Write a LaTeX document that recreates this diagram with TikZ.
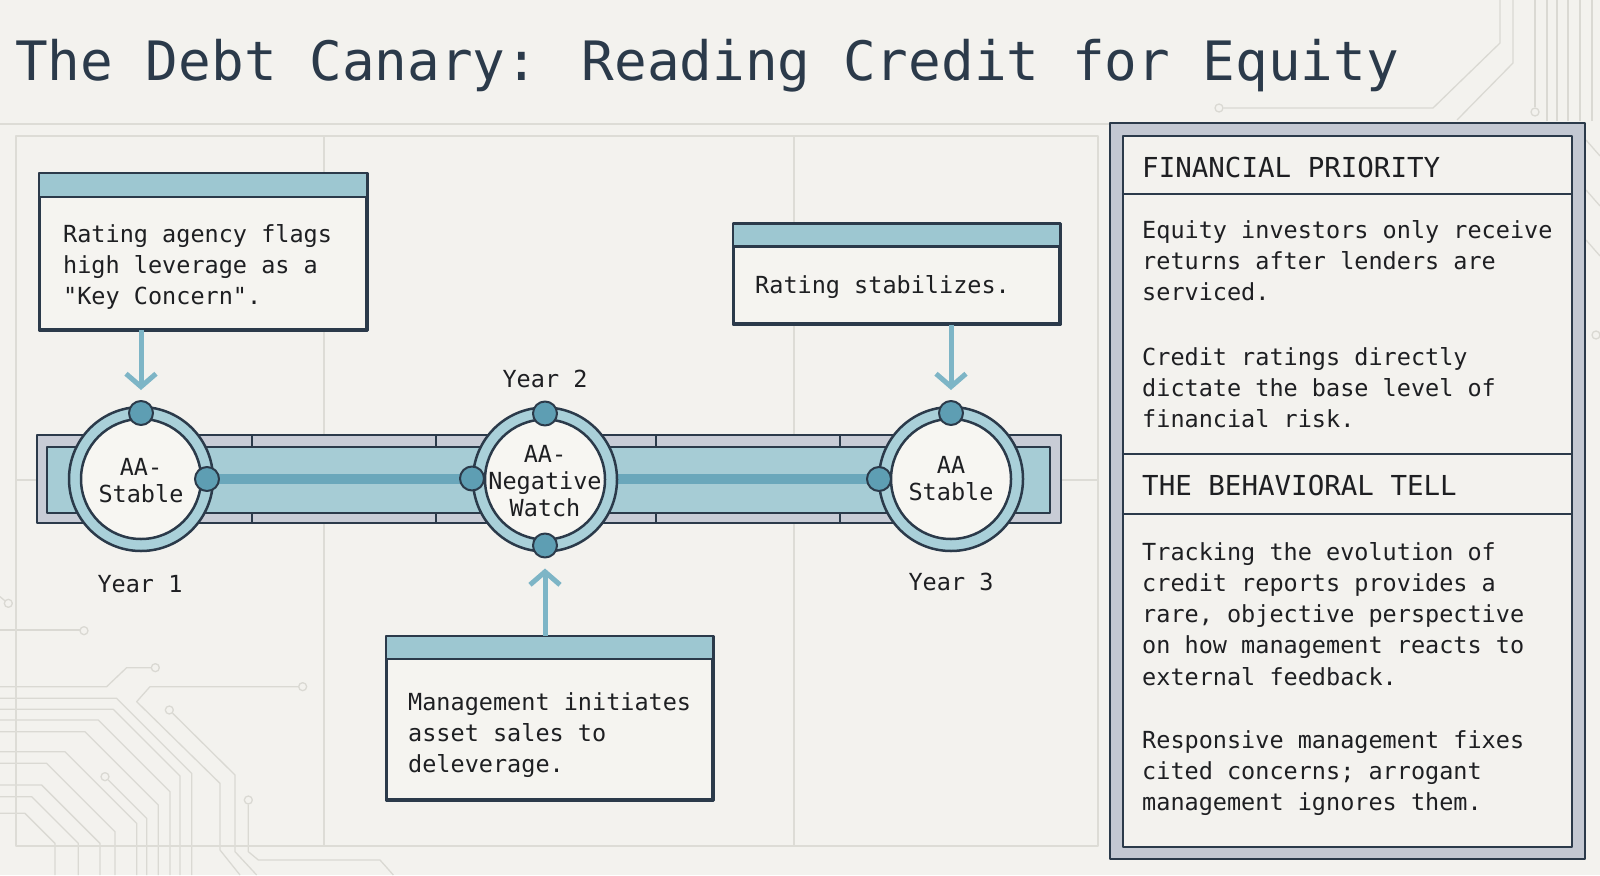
\documentclass[tikz,border=0pt]{standalone}
\usepackage{fontspec}
\setmainfont{DejaVu Sans Mono}[Ligatures=TeXOff]
\usetikzlibrary{arrows.meta,calc}
\definecolor{bg}{HTML}{F3F2EE}
\definecolor{dk}{HTML}{2B3A4A}
\definecolor{txt}{HTML}{1E1F22}
\definecolor{band}{HTML}{9DC7D1}
\definecolor{ringc}{HTML}{A9D0D9}
\definecolor{dotc}{HTML}{5E9EB3}
\definecolor{barc}{HTML}{A6CCD5}
\definecolor{stripec}{HTML}{6AA7BB}
\definecolor{stripgray}{HTML}{C8CCD6}
\definecolor{arrc}{HTML}{7DB5C6}
\definecolor{panelgray}{HTML}{C3C8D2}
\definecolor{boxfill}{HTML}{F5F4F0}
\definecolor{corefill}{HTML}{F7F6F2}
\definecolor{gridc}{HTML}{DDDCD6}
\definecolor{trc}{HTML}{DAD9D3}
\newcommand{\mlines}[1]{\begin{tabular}[t]{@{}l@{}}#1\end{tabular}}
\newcommand{\clines}[1]{\begin{tabular}[t]{@{}c@{}}#1\end{tabular}}
\newcommand{\bodyf}{\fontsize{23.5}{31.3}\selectfont}
\newcommand{\circf}{\fontsize{23.5}{27}\selectfont}
\newcommand{\headf}{\fontsize{27.5}{32}\selectfont}
\newcommand{\titlef}{\fontsize{54.3}{60}\selectfont}
\begin{document}
\begin{tikzpicture}[x=1pt,y=-1pt,line join=round,
  trace/.style={draw=trc,line width=1.3pt},
  via/.style={circle,draw=trc,line width=1.3pt,fill=bg,inner sep=0pt,minimum size=8pt},
  gridl/.style={draw=gridc,line width=1.5pt},
  boxline/.style={draw=dk,line width=2.5pt},
  evbox/.style={rectangle,draw=dk,line width=2.5pt,fill=boxfill,inner sep=0pt},
  ring/.style={circle,draw=dk,line width=2.5pt,fill=ringc,inner sep=0pt,minimum size=144pt},
  core/.style={circle,draw=dk,line width=2.5pt,fill=corefill,inner sep=0pt,minimum size=120pt},
  dot/.style={circle,draw=dk,line width=2pt,fill=dotc,inner sep=0pt,minimum size=24pt},
  arr/.style={draw=arrc,line width=5pt,-{Straight Barb[length=13pt,width=30pt]},shorten >=10pt},
  stripe/.style={draw=stripec,line width=10pt},
  txtl/.style={inner sep=0pt,anchor=base west,text=txt,font=\bodyf},
  clab/.style={inner sep=0pt,anchor=base,text=txt,font=\circf},
  headl/.style={inner sep=0pt,anchor=base west,text=txt,font=\headf}]
\useasboundingbox (0,0) rectangle (1600,875);
\fill[bg] (0,0) rectangle (1600,875);

% ---- circuit traces bottom-left (zoom coordinates)
\begin{scope}[shift={(0,550)},x=0.33333pt,y=-0.33333pt]
  \draw[trace] (0,140) -- (18,155);
  \node[via] (v1) at (25,160) {};
  \draw[trace] (0,240) -- (240,240);
  \node[via] (v2) at (252,242) {};
  \draw[trace] (0,410) -- (320,410) -- (380,353) -- (455,353);
  \node[via] (v3) at (466,353) {};
  \node[via] (v4) at (908,410) {};
  \draw[trace] (v4) -- (450,410) -- (410,455) -- (660,700) -- (660,900) -- (720,975);
  \node[via] (v5) at (508,480) {};
  \draw[trace] (v5) -- (705,675) -- (705,905) -- (770,975);
  \node[via] (v6) at (745,750) {};
  \draw[trace] (v6) -- (745,905) -- (775,930) -- (1140,930) -- (1180,975);
  \draw[trace] (0,445) -- (350,445) -- (575,670) -- (575,975);
  \draw[trace] (0,478) -- (340,478) -- (540,678) -- (540,975);
  \draw[trace] (0,510) -- (295,510) -- (510,725) -- (510,975);
  \draw[trace] (0,545) -- (255,545) -- (475,765) -- (475,975);
  \draw[trace] (0,605) -- (195,605) -- (410,820) -- (410,975);
  \draw[trace] (0,640) -- (140,640) -- (345,845) -- (345,975);
  \draw[trace] (0,705) -- (125,705) -- (300,880) -- (300,975);
  \draw[trace] (0,740) -- (95,740) -- (235,880) -- (235,975);
  \draw[trace] (0,790) -- (75,790) -- (165,880) -- (165,975);
  \node[via] (v7) at (315,680) {};
  \draw[trace] (v7) -- (440,805) -- (440,975);
\end{scope}

% ---- circuit traces top-right
\node[via] (v8) at (1219,108) {};
\draw[trace] (v8) -- (1433,108) -- (1500,43) -- (1500,0);
\draw[trace] (1457,120) -- (1513,63) -- (1513,0);
\node[via] (v9) at (1535,112) {};
\draw[trace] (v9) -- (1535,0);
\draw[trace] (1547,121) -- (1547,0);
\draw[trace] (1557,121) -- (1557,0);
\draw[trace] (1568,121) -- (1568,0);
\draw[trace] (1580,121) -- (1580,0);
\draw[trace] (1592,121) -- (1592,0);
\draw[trace] (1586,140) -- (1600,156);
\draw[trace] (1586,190) -- (1600,206);
\draw[trace] (1586,240) -- (1600,256);
\node[via] (v10) at (1596,335) {};

% ---- grid frame
\draw[gridl] (0,124) -- (1110,124);
\draw[gridl] (16,136) rectangle (1098,846);
\draw[gridl] (324,136) -- (324,846);
\draw[gridl] (794,136) -- (794,846);
\draw[gridl] (16,480) -- (1098,480);

% ---- title
\node[inner sep=0pt,anchor=base west,text=dk,font=\titlef] (title) at (15,81) {The Debt Canary: Reading Credit for Equity};

% ---- timeline bar
\node[rectangle,draw=dk,line width=2pt,fill=stripgray,inner sep=0pt,minimum width=1024pt,minimum height=88pt] (barout) at (549,479) {};
\node[rectangle,draw=dk,line width=2pt,fill=barc,inner sep=0pt,minimum width=1003pt,minimum height=66pt] (barin) at (548.5,480) {};
\foreach \xx in {252,436,656,840}{
  \draw[dk,line width=2pt] (\xx,435) -- (\xx,447);
  \draw[dk,line width=2pt] (\xx,513) -- (\xx,523);
}
\coordinate (c1) at (141,479);
\coordinate (c2) at (545,479.5);
\coordinate (c3) at (951,479);
\draw[stripe] ($(c1)+(66,0)$) -- ($(c3)+(-66,0)$);

% ---- milestone circles
\node[ring] (r1) at (c1) {};
\node[core] (k1) at (c1) {};
\node[ring] (r2) at (c2) {};
\node[core] (k2) at (c2) {};
\node[ring] (r3) at (c3) {};
\node[core] (k3) at (c3) {};
\node[dot] (d1t) at ($(c1)+(0,-66)$) {};
\node[dot] (d1r) at ($(c1)+(66,0)$) {};
\node[dot] (d2t) at ($(c2)+(0,-66)$) {};
\node[dot] (d2l) at ($(c2)+(-73,-1)$) {};
\node[dot] (d2b) at ($(c2)+(0,66)$) {};
\node[dot] (d3t) at ($(c3)+(0,-66)$) {};
\node[dot] (d3l) at ($(c3)+(-72,0)$) {};

\node[clab] (t1) at (141,475) {\clines{AA-\\Stable}};
\node[clab] (t2) at (545,462) {\clines{AA-\\Negative\\Watch}};
\node[clab] (t3) at (951,473) {\clines{AA\\Stable}};

\node[clab] (y1) at (140,592) {Year 1};
\node[clab] (y2) at (545,387) {Year 2};
\node[clab] (y3) at (951,590) {Year 3};

% ---- event boxes
\node[evbox,minimum width=326pt,minimum height=155pt] (b1) at (203,251.5) {};
\fill[band] (b1.north west) rectangle ($(b1.north east)+(0,24)$);
\draw[boxline] ($(b1.north west)+(0,24)$) -- ($(b1.north east)+(0,24)$);
\draw[boxline] (b1.north west) rectangle (b1.south east);
\node[txtl] (b1t) at (63,242) {\mlines{Rating agency flags\\high leverage as a\\"Key Concern".}};

\node[evbox,minimum width=325pt,minimum height=99pt] (b3) at (896.5,274) {};
\fill[band] (b3.north west) rectangle ($(b3.north east)+(0,23)$);
\draw[boxline] ($(b3.north west)+(0,23)$) -- ($(b3.north east)+(0,23)$);
\draw[boxline] (b3.north west) rectangle (b3.south east);
\node[txtl] (b3t) at (755,293) {Rating stabilizes.};

\node[evbox,minimum width=325pt,minimum height=162pt] (b2) at (549.5,718) {};
\fill[band] (b2.north west) rectangle ($(b2.north east)+(0,23)$);
\draw[boxline] ($(b2.north west)+(0,23)$) -- ($(b2.north east)+(0,23)$);
\draw[boxline] (b2.north west) rectangle (b2.south east);
\node[txtl] (b2t) at (408,710) {\mlines{Management initiates\\asset sales to\\deleverage.}};

% ---- arrows
\draw[arr] (b1.south -| c1) -- (d1t.north);
\draw[arr] (b3.south -| c3) -- (d3t.north);
\draw[arr] (b2.north -| c2) -- (d2b.south);

% ---- right panel
\node[rectangle,draw=dk,line width=2.5pt,fill=panelgray,inner sep=0pt,minimum width=475pt,minimum height=736pt] (pout) at (1347.5,491) {};
\node[rectangle,draw=dk,line width=2.5pt,fill=bg,inner sep=0pt,minimum width=449pt,minimum height=711pt] (pin) at (1347.5,491.5) {};
\draw[boxline] ($(pin.north west)+(0,59)$) -- ($(pin.north east)+(0,59)$);
\draw[boxline] ($(pin.north west)+(0,319)$) -- ($(pin.north east)+(0,319)$);
\draw[boxline] ($(pin.north west)+(0,379)$) -- ($(pin.north east)+(0,379)$);

\node[headl] (h1) at (1142,177) {FINANCIAL PRIORITY};
\node[txtl] (p1) at (1142,238) {\mlines{Equity investors only receive\\returns after lenders are\\serviced.}};
\node[txtl] (p2) at (1142,365) {\mlines{Credit ratings directly\\dictate the base level of\\financial risk.}};
\node[headl] (h2) at (1142,495) {THE BEHAVIORAL TELL};
\node[txtl] (p3) at (1142,560) {\mlines{Tracking the evolution of\\credit reports provides a\\rare, objective perspective\\on how management reacts to\\external feedback.}};
\node[txtl] (p4) at (1142,748) {\mlines{Responsive management fixes\\cited concerns; arrogant\\management ignores them.}};
\end{tikzpicture}
\end{document}
